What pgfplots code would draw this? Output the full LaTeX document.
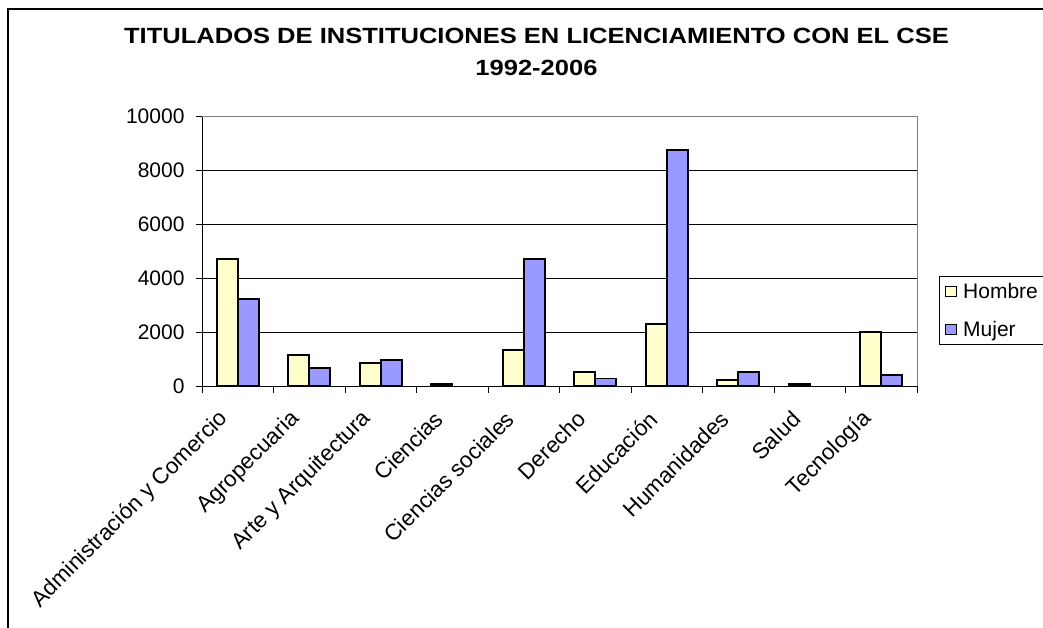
\documentclass[border=0pt]{standalone}
\usepackage{pgfplots}
\pgfplotsset{compat=1.18}
\usepackage{fontspec}
\setmainfont{Liberation Sans}
\usepackage{graphicx}
\definecolor{hombre}{HTML}{FFFFCC}
\definecolor{mujer}{HTML}{9999FF}
\newcommand{\tickfont}{\fontsize{21}{24}\selectfont}
\newcommand{\xtickfont}{\fontsize{22.4}{26}\selectfont}
\begin{document}
\begin{tikzpicture}[x=1pt,y=1pt]
\useasboundingbox (0,0) rectangle (1043,627);
\clip (0,0) rectangle (1043,627);
\draw[line width=1.2pt] (8,-20) -- (8,618) -- (1060,618);
\node[font=\bfseries\fontsize{22}{24}\selectfont, inner sep=0pt] at (536.5,591.5) {\scalebox{1.16}[1]{TITULADOS DE INSTITUCIONES EN LICENCIAMIENTO CON EL CSE}};
\node[font=\bfseries\fontsize{22}{24}\selectfont, inner sep=0pt] at (536.5,559.5) {\scalebox{1.16}[1]{1992-2006}};
\begin{axis}[
  at={(202pt,241pt)}, anchor=south west,
  scale only axis, width=715pt, height=270pt,
  ybar=0pt, bar width=21pt,
  ymin=0, ymax=10000, ytick={0,2000,...,10000},
  scaled y ticks=false,
  xmin=-0.5, xmax=9.5,
  xtick={0,...,9},
  xticklabels={Administración y Comercio, Agropecuaria, Arte y Arquitectura, Ciencias, Ciencias sociales, Derecho, Educación, Humanidades, Salud, Tecnología},
  minor xtick={-0.5,0.5,...,9.5},
  major x tick style={draw=none},
  tick align=outside,
  major tick length=6pt, minor tick length=7pt,
  tick style={black, thin},
  axis x line*=bottom, axis y line*=left,
  axis line style={black, thin},
  ymajorgrids, grid style={black, thin},
  /pgf/number format/1000 sep={},
  /pgf/number format/assume math mode=true,
  yticklabel style={font=\tickfont, xshift=-8pt},
  xticklabel style={font=\xtickfont, xshift=-11pt, yshift=-21pt, rotate=45, anchor=east},
  legend style={at={(1.031,0.28)}, anchor=west, draw=black, thin, font=\tickfont, row sep=21pt, inner xsep=6pt, inner ysep=7pt,
    nodes={inner sep=0pt}},
  legend cell align=left,
  legend image code/.code={\draw[#1, line width=1pt] (0pt,-5pt) rectangle (11pt,5pt);},
  after end axis/.code={\draw[gray, thin] (rel axis cs:0,1) -- (rel axis cs:1,1) -- (rel axis cs:1,0);},
]
\addplot[fill=hombre, draw=black, line width=1.8pt] coordinates {
(0,4700) (1,1160) (2,865) (3,65) (4,1320) (5,520) (6,2300) (7,235) (8,65) (9,2000)};
\addplot[fill=mujer, draw=black, line width=1.8pt] coordinates {
(0,3230) (1,655) (2,950) (4,4700) (5,280) (6,8730) (7,520) (9,420)};
\legend{\ Hombre, \ Mujer}
\end{axis}
\end{tikzpicture}
\end{document}
